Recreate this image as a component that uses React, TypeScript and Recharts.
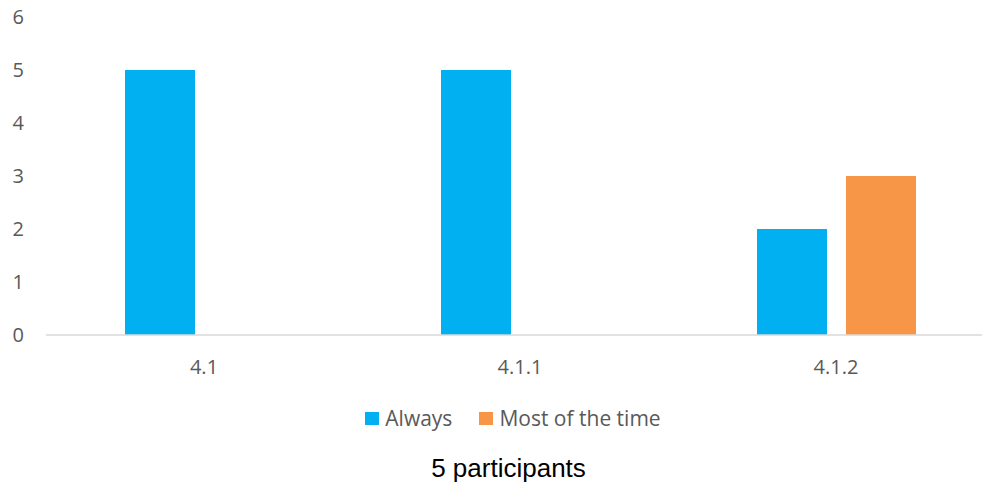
import React from "react";
import { BarChart, Bar, XAxis, YAxis } from "recharts";

const categories = ["4.1", "4.1.1", "4.1.2"];
const always = [5, 5, 2];
const mostOfTheTime = [0, 0, 3];
const yTicks = [0, 1, 2, 3, 4, 5, 6];

const series = [
  { key: "always", name: "Always", color: "#00B0F0" },
  { key: "most", name: "Most of the time", color: "#F79646" },
];

const data = categories.map((name, i) => ({
  name,
  always: always[i],
  most: mostOfTheTime[i],
}));

const FONT = "'Open Sans', sans-serif";
const GREY = "#595959";

function LegendRow() {
  return (
    <div
      style={{
        position: "absolute",
        top: 404,
        left: 0,
        width: 1026,
        display: "flex",
        justifyContent: "center",
        fontFamily: FONT,
        fontSize: 21,
        color: GREY,
      }}
    >
      {series.map((s, i) => (
        <div key={s.key} style={{ display: "flex", alignItems: "center", marginLeft: i ? 27 : 0 }}>
          <span style={{ width: 14, height: 13, background: s.color, display: "inline-block", marginRight: 6 }} />
          <span>{s.name}</span>
        </div>
      ))}
    </div>
  );
}

export default function App() {
  return (
    <div style={{ position: "absolute", left: 0, top: 0, width: 982, height: 487, overflow: "hidden", background: "#fff" }}>
      <BarChart
        width={1000}
        height={487}
        data={data}
        margin={{ top: 17, right: 6, bottom: 122, left: 0 }}
        barSize={70}
        barGap={19}
      >
        <XAxis
          dataKey="name"
          height={30}
          axisLine={{ stroke: "#d9d9d9", strokeWidth: 1.5 }}
          tickLine={false}
          tickSize={0}
          tickMargin={25}
          tick={{ fill: GREY, fontSize: 20, fontFamily: FONT }}
        />
        <YAxis
          width={46}
          domain={[0, 6]}
          ticks={yTicks}
          axisLine={false}
          tickLine={false}
          tickSize={0}
          tickMargin={22}
          tick={{ fill: GREY, fontSize: 20, fontFamily: FONT }}
        />
        {series.map((s) => (
          <Bar key={s.key} dataKey={s.key} name={s.name} fill={s.color} isAnimationActive={false} />
        ))}
      </BarChart>
      <LegendRow />
      <div
        style={{
          position: "absolute",
          top: 453,
          left: 0,
          width: 1017,
          textAlign: "center",
          fontFamily: "'Liberation Sans', Arial, sans-serif",
          fontSize: 26,
          color: "#000",
        }}
      >
        5 participants
      </div>
    </div>
  );
}
